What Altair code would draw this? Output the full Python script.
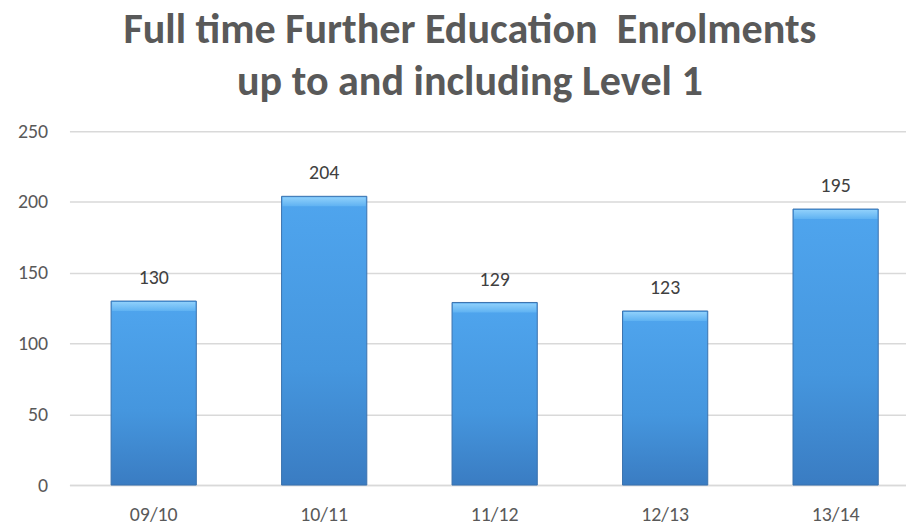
import altair as alt
import pandas as pd

years = ["09/10", "10/11", "11/12", "12/13", "13/14"]
enrolments = [130, 204, 129, 123, 195]
y_ticks = [0, 50, 100, 150, 200, 250]
title_lines = ["Full time Further Education\u00a0 Enrolments", "up to and including Level 1"]

df = pd.DataFrame({"year": years, "value": enrolments})

FONT = "Calibri, Carlito, Lato, sans-serif"
GREY = "#595959"

x_enc = alt.X("year:N", sort=years, title=None,
              scale=alt.Scale(paddingInner=0.5, paddingOuter=0.2035, align=0.6),
              axis=alt.Axis(labelAngle=0, labelFontSize=20, labelFont=FONT, labelColor=GREY,
                            ticks=False, domainColor="#d9d9d9", domainWidth=1.5,
                            labelPadding=20, grid=False))
y_enc = alt.Y("value:Q", title=None,
              scale=alt.Scale(domain=[0, 250], nice=False),
              axis=alt.Axis(values=y_ticks, labelFontSize=20, labelFont=FONT, labelColor=GREY,
                            ticks=False, domain=False, gridColor="#d9d9d9", gridWidth=1.5,
                            labelPadding=22))

bar_grad = alt.Gradient(gradient="linear", x1=0, x2=0, y1=0, y2=1,
                        stops=[alt.GradientStop(color="#4fa5ee", offset=0),
                               alt.GradientStop(color="#4596de", offset=0.6),
                               alt.GradientStop(color="#3a7cc2", offset=1)])
bevel_grad = alt.Gradient(gradient="linear", x1=0, x2=0, y1=0, y2=1,
                          stops=[alt.GradientStop(color="#8fd0fb", offset=0),
                                 alt.GradientStop(color="#5fb2f2", offset=1)])

base = alt.Chart(df)

bars = base.mark_bar(color=bar_grad, stroke="#3a71ad", strokeWidth=1).encode(x=x_enc, y=y_enc)

bevel = base.mark_tick(color=bevel_grad, orient="horizontal", size=84, thickness=9,
                       yOffset=5.5, opacity=1).encode(x=x_enc, y=y_enc)

labels = base.mark_text(font=FONT, fontSize=20, color="#404040", dy=-17,
                        baseline="alphabetic").encode(x=x_enc, y=y_enc, text="value:Q")

chart = (bars + bevel + labels).properties(
    width=844, height=357,
    title=alt.TitleParams(
        title_lines,
        fontSize=42.5, font=FONT, fontWeight="bold", color=GREY,
        anchor="middle", frame="group", dx=-18, offset=18, lineHeight=52),
    autosize=alt.AutoSizeParams(type="none"),
    padding={"left": 62, "top": 122, "right": 0, "bottom": 40},
).configure_view(stroke=None)

chart.save("out.html", embed_options={"renderer": "svg", "actions": False})
